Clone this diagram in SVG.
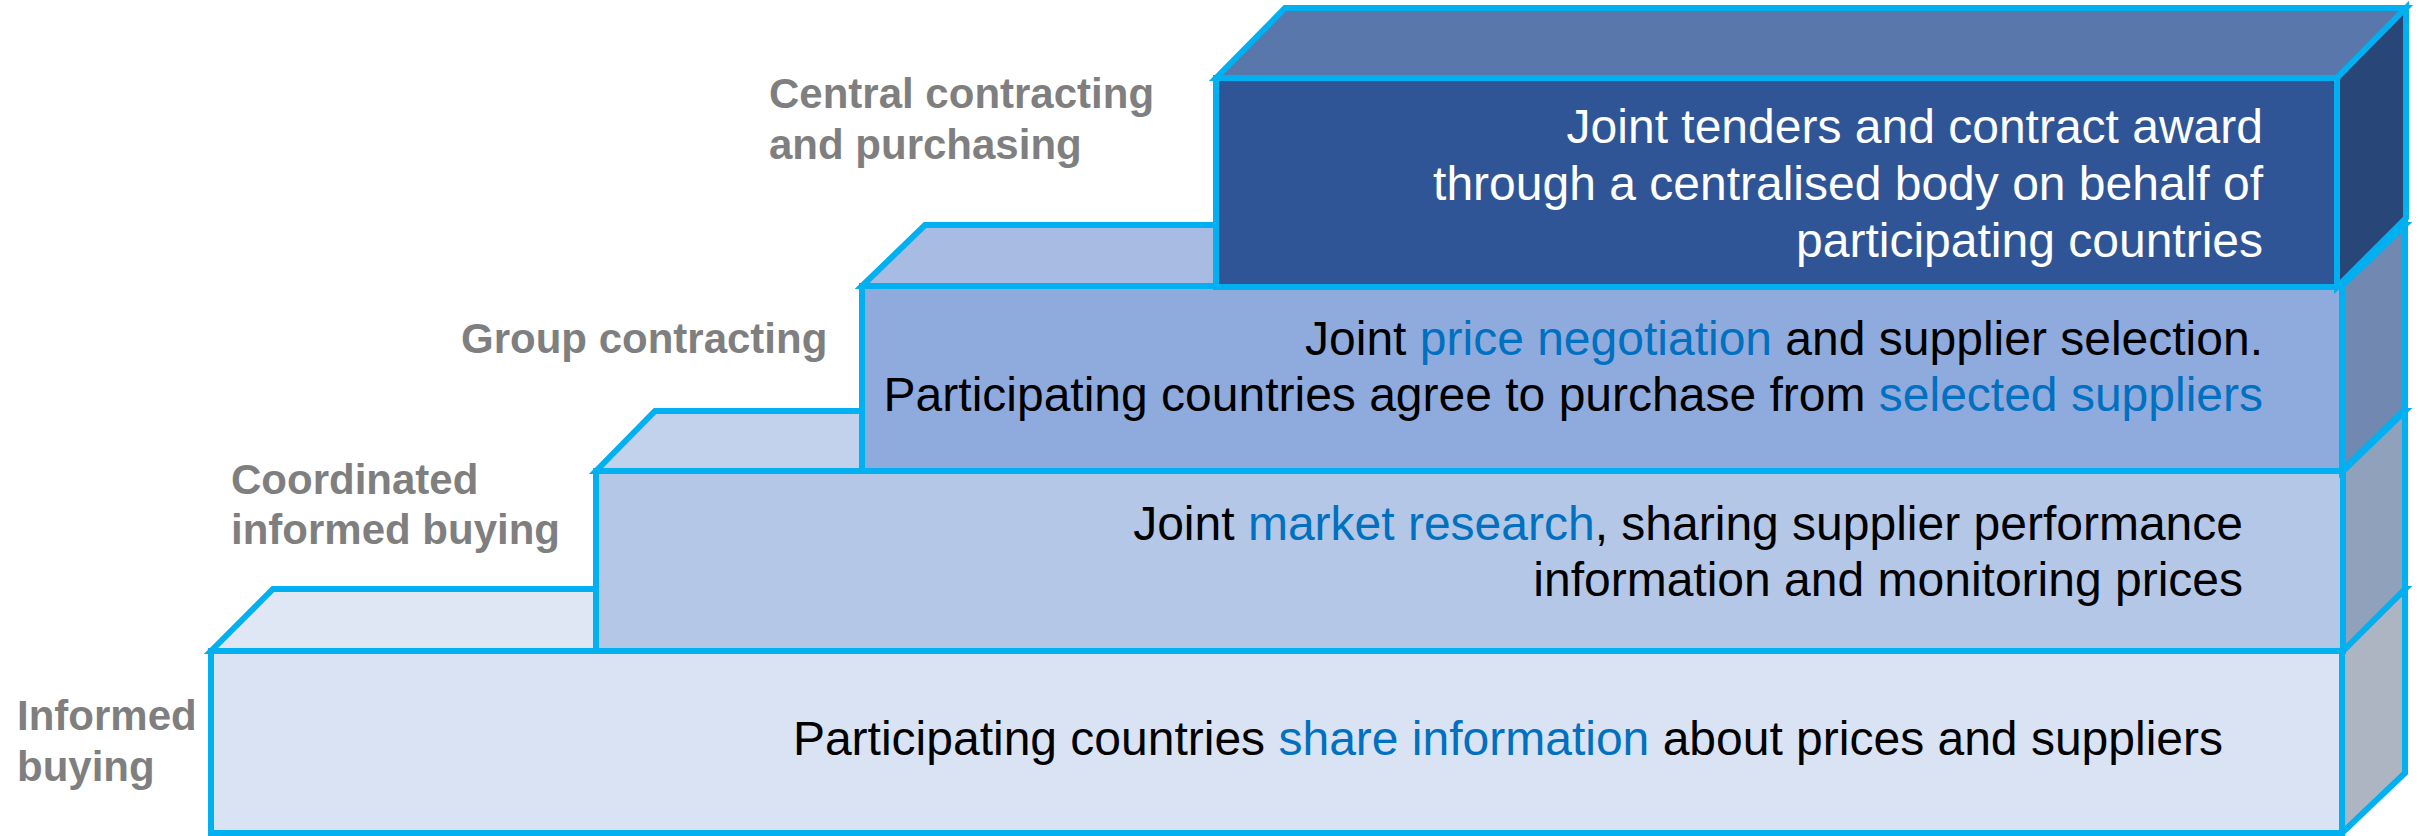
<svg xmlns="http://www.w3.org/2000/svg" width="2422" height="836" viewBox="0 0 2422 836">
<style>
.edge{stroke:#00B0F0;stroke-width:6;stroke-linejoin:miter}
.body{font-family:"Liberation Sans",Arial,sans-serif;font-size:48px;text-anchor:end;fill:#000}
.hl{fill:#0070C0}
.lbl{font-family:"Liberation Sans",Arial,sans-serif;font-size:42px;font-weight:bold;fill:#7F7F7F}
</style>
<rect width="2422" height="836" fill="#FFFFFF"/>
<g id="informed-buying">
<polygon class="edge" fill="#E0E7F4" points="211,651 273,589 2405,589 2342,651"/>
<polygon class="edge" fill="#ADB5C3" points="2342,651 2405,589 2405,773 2342,833"/>
<rect class="edge" fill="#DAE3F3" x="211" y="651" width="2131" height="182"/>
<text class="body" x="2223" y="755">Participating countries <tspan class="hl">share information</tspan> about prices and suppliers</text>
</g>
<g id="coordinated-informed-buying">
<polygon class="edge" fill="#C3D2EC" points="596,471 655,411 2405,411 2343,471"/>
<polygon class="edge" fill="#8FA1BB" points="2343,471 2405,411 2405,589 2343,651"/>
<rect class="edge" fill="#B4C7E7" x="596" y="471" width="1747" height="180"/>
<text class="body" x="2243" y="540">Joint <tspan class="hl">market research</tspan>, sharing supplier performance</text>
<text class="body" x="2243" y="596">information and monitoring prices</text>
</g>
<g id="group-contracting">
<polygon class="edge" fill="#A8BBE3" points="862,286 925,225 2405,225 2342,286"/>
<polygon class="edge" fill="#7189B0" points="2342,286 2405,225 2405,409 2342,471"/>
<rect class="edge" fill="#8FAADC" x="862" y="286" width="1480" height="185"/>
<text class="body" x="2263" y="355">Joint <tspan class="hl">price negotiation</tspan> and supplier selection.</text>
<text class="body" x="2263" y="411">Participating countries agree to purchase from <tspan class="hl">selected suppliers</tspan></text>
</g>
<g id="central-contracting">
<polygon class="edge" fill="#5A77AB" points="1216,78 1285,8 2406,8 2337,78"/>
<polygon class="edge" fill="#284678" points="2337,78 2406,8 2406,218 2337,287"/>
<rect class="edge" fill="#2F5597" x="1216" y="78" width="1121" height="209"/>
<text class="body" x="2263" y="143" fill="#FFFFFF" style="fill:#FFFFFF">Joint tenders and contract award</text>
<text class="body" x="2263" y="200" style="fill:#FFFFFF">through a centralised body on behalf of</text>
<text class="body" x="2263" y="257" style="fill:#FFFFFF">participating countries</text>
</g>
<g id="labels">
<text class="lbl" x="769" y="108">Central contracting</text>
<text class="lbl" x="769" y="159">and purchasing</text>
<text class="lbl" x="461" y="353">Group contracting</text>
<text class="lbl" x="231" y="494">Coordinated</text>
<text class="lbl" x="231" y="544">informed buying</text>
<text class="lbl" x="17" y="730">Informed</text>
<text class="lbl" x="17" y="781">buying</text>
</g>
<g id="connectors"></g>
</svg>
